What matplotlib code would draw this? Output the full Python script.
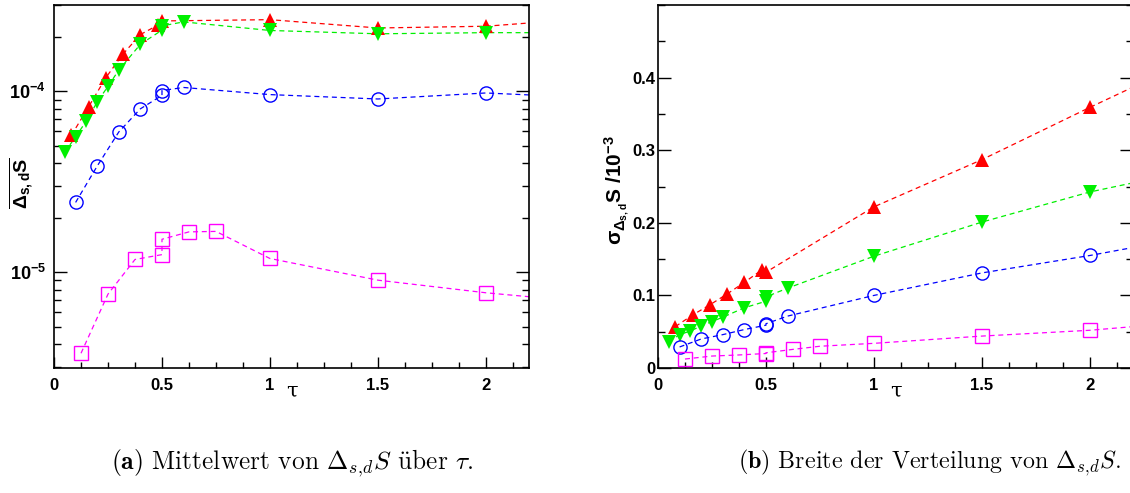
import math
import matplotlib
matplotlib.use('Agg')
import matplotlib.pyplot as plt
from matplotlib.ticker import FixedLocator, MultipleLocator, LogLocator, NullFormatter, FuncFormatter

# ---------------- data ----------------
tau_red = [0.08, 0.16, 0.24, 0.32, 0.40, 0.48, 0.50, 1.0, 1.5, 2.0, 2.5]
tau_green = [0.05, 0.10, 0.15, 0.20, 0.25, 0.30, 0.40, 0.50, 0.50, 0.60, 1.0, 1.5, 2.0, 2.5]
tau_blue = [0.1, 0.2, 0.3, 0.4, 0.5, 0.5, 0.6, 1.0, 1.5, 2.0, 2.5]
tau_mag = [0.125, 0.25, 0.375, 0.5, 0.5, 0.625, 0.75, 1.0, 1.5, 2.0, 2.5]

mean_red = [5.7e-5, 8.2e-5, 1.19e-4, 1.61e-4, 2.06e-4, 2.32e-4, 2.45e-4, 2.49e-4, 2.24e-4, 2.29e-4, 2.54e-4]
mean_green = [4.62e-5, 5.6e-5, 6.86e-5, 8.73e-5, 1.066e-4, 1.31e-4, 1.82e-4, 2.18e-4, 2.30e-4, 2.42e-4,
              2.17e-4, 2.08e-4, 2.11e-4, 2.11e-4]
mean_blue = [2.43e-5, 3.86e-5, 5.96e-5, 8.0e-5, 9.5e-5, 1.01e-4, 1.05e-4, 9.59e-5, 9.07e-5, 9.79e-5, 9.2e-5]
mean_mag = [3.56e-6, 7.56e-6, 1.175e-5, 1.25e-5, 1.52e-5, 1.67e-5, 1.68e-5, 1.19e-5, 9.03e-6, 7.69e-6, 6.78e-6]

width_red = [0.057, 0.073, 0.087, 0.102, 0.118, 0.135, 0.132, 0.222, 0.287, 0.359, 0.429]
width_green = [0.036, 0.046, 0.051, 0.058, 0.064, 0.070, 0.083, 0.092, 0.098, 0.110, 0.154, 0.201, 0.2425, 0.274]
width_blue = [0.029, 0.040, 0.046, 0.053, 0.059, 0.061, 0.0715, 0.100, 0.131, 0.155, 0.1825]
width_mag = [0.0124, 0.0165, 0.018, 0.020, 0.021, 0.0257, 0.030, 0.034, 0.044, 0.052, 0.0645]

left_major_ticks = [1e-5, 1e-4]
right_major_ticks = [0.0, 0.1, 0.2, 0.3, 0.4]
right_tick_labels = ['0', '0.1', '0.2', '0.3', '0.4']
x_major_ticks = [0, 0.5, 1, 1.5, 2]
x_tick_labels = ['0', '0.5', '1', '1.5', '2']

caption_a = r"$\mathbf{(a)}$ Mittelwert von $\Delta_{s,\!d}S$ über $\tau$."
caption_b = r"$\mathbf{(b)}$ Breite der Verteilung von $\Delta_{s,\!d}S$."

# ---------------- style ----------------
plt.rcParams['font.family'] = ['Liberation Sans', 'DejaVu Sans']
plt.rcParams['font.weight'] = 'bold'
plt.rcParams['mathtext.fontset'] = 'custom'
plt.rcParams['mathtext.rm'] = 'Liberation Sans:bold'
plt.rcParams['mathtext.it'] = 'Liberation Sans:bold'
plt.rcParams['mathtext.bf'] = 'Liberation Sans:bold'
plt.rcParams['mathtext.sf'] = 'Liberation Sans:bold'
plt.rcParams['axes.linewidth'] = 1.2

RED = '#ff0000'
GREEN = '#00f000'
BLUE = '#0000ff'
MAG = '#ff00ff'
dash = (0, (4, 3))

series = [
    (tau_red, mean_red, width_red, RED, '^', True, 10),
    (tau_green, mean_green, width_green, GREEN, 'v', True, 10),
    (tau_blue, mean_blue, width_blue, BLUE, 'o', False, 9.5),
    (tau_mag, mean_mag, width_mag, MAG, 's', False, 9.5),
]

fig = plt.figure(figsize=(11.3, 4.93), dpi=100)
axL = fig.add_axes([0.0478, 0.2535, 0.4204, 0.7363])
axR = fig.add_axes([0.5823, 0.2535, 0.4204, 0.7363])

for ax, idx in ((axL, 1), (axR, 2)):
    for s in series:
        x, y, c, m, filled, ms = s[0], s[idx], s[3], s[4], s[5], s[6]
        ax.plot(x, y, linestyle=dash, color=c, lw=0.9, zorder=2)
        ax.plot(x, y, linestyle='none', marker=m, markersize=ms,
                markerfacecolor=c if filled else 'none', markeredgecolor=c,
                markeredgewidth=0.0 if filled else 1.0, zorder=3)
    ax.set_xlim(0, 2.2)
    ax.xaxis.set_major_locator(FixedLocator(x_major_ticks))
    ax.set_xticklabels(x_tick_labels)
    ax.xaxis.set_minor_locator(MultipleLocator(0.125))
    ax.tick_params(axis='x', which='both', direction='in', top=False, bottom=True,
                   labelsize=12, pad=7)
    ax.tick_params(axis='x', which='major', length=8, width=1)
    ax.tick_params(axis='x', which='minor', length=4, width=1)
    ax.tick_params(axis='y', which='both', direction='in', left=True, right=True, labelsize=12)
    ax.tick_params(axis='y', which='major', length=9.5, width=1)
    ax.tick_params(axis='y', which='minor', length=5, width=1)
    for lab in ax.get_xticklabels() + ax.get_yticklabels():
        lab.set_fontweight('bold')
    ax.set_xlabel('τ', fontsize=15, fontweight='normal', family=['DejaVu Serif'])
    ax.xaxis.set_label_coords(0.5, -0.038)

# left panel: log axis
axL.set_yscale('log')
axL.set_ylim(2.95e-6, 3.0e-4)
axL.yaxis.set_major_locator(FixedLocator(left_major_ticks))
axL.yaxis.set_major_formatter(FuncFormatter(lambda v, p: r'$10^{%d}$' % round(math.log10(v))))
axL.yaxis.set_minor_locator(LogLocator(base=10, subs=[2, 3, 4, 5, 6, 7, 8, 9], numticks=20))
axL.yaxis.set_minor_formatter(NullFormatter())
axL.tick_params(axis='y', which='major', pad=6, labelsize=13)
axL.set_ylabel(r'$\overline{\Delta_{s,d}\mathrm{S}}$', fontsize=14)
axL.yaxis.set_label_coords(-0.038, 0.51)

# right panel: linear axis
axR.set_ylim(0, 0.5)
axR.yaxis.set_major_locator(FixedLocator(right_major_ticks))
axR.set_yticklabels(right_tick_labels)
axR.yaxis.set_minor_locator(MultipleLocator(0.05))
axR.tick_params(axis='y', which='major', pad=2)
for lab in axR.get_yticklabels():
    lab.set_fontweight('bold')
axR.set_ylabel(r'$\sigma_{\Delta_{s,d}}\mathrm{S}\ /10^{-3}$', fontsize=15)
axR.yaxis.set_label_coords(-0.055, 0.49)

# captions
cap_family = ['Latin Modern Roman', 'cmr10']
fig.text(0.2588, 0.061, caption_a, ha='center', va='center', fontsize=18.3,
         family=cap_family, fontweight='normal', math_fontfamily='cm')
fig.text(0.823, 0.061, caption_b, ha='center', va='center', fontsize=17.3,
         family=cap_family, fontweight='normal', math_fontfamily='cm')

fig.savefig('out.png', dpi=100)
